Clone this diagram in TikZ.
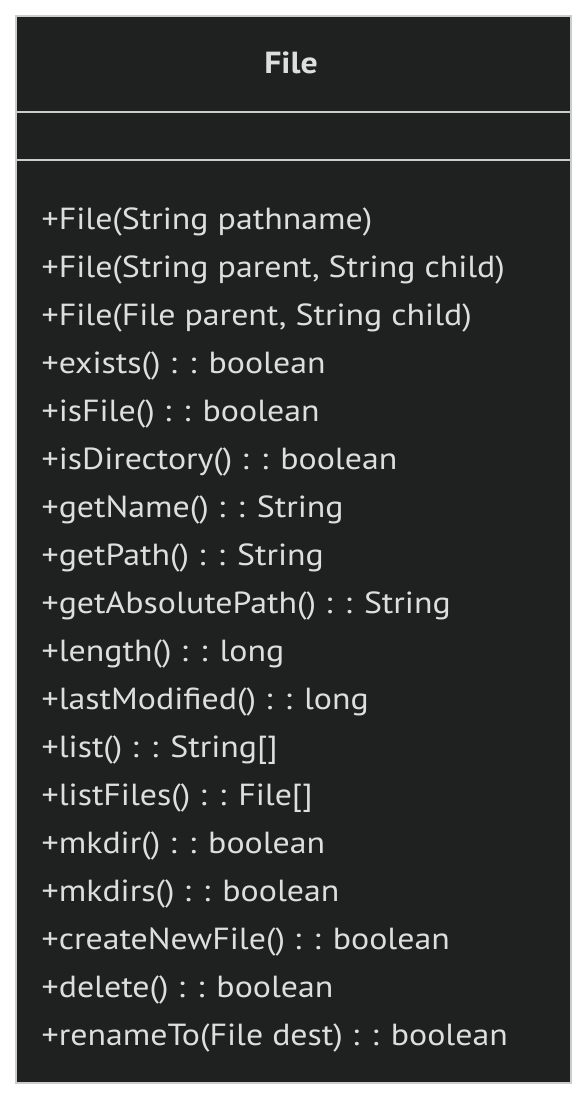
\documentclass[tikz,border=0pt]{standalone}
\usepackage{fontspec}
\setmainfont[FakeStretch=1.11]{PT Sans}
\usetikzlibrary{positioning}
\definecolor{classfill}{HTML}{1F2020}
\definecolor{classline}{HTML}{CCCCCC}
\definecolor{classtext}{HTML}{DEDEDE}
\tikzset{
  classbox/.style={draw=classline,fill=classfill,line width=2pt,inner sep=0,
    minimum width=555pt,minimum height=1067pt},
  classname/.style={text=classtext,inner sep=0,anchor=base,
    font=\fontsize{30.5}{30.5}\selectfont\bfseries},
  member/.style={text=classtext,inner sep=0,anchor=base west,
    font=\fontsize{30.5}{30.5}\selectfont},
  divider/.style={classline,line width=2pt}
}

\begin{document}
\begin{tikzpicture}[x=1pt,y=-1pt]
    \pgfmathsetmacro{\firstbase}{229}
    \pgfmathsetmacro{\rowstep}{48}
    \useasboundingbox (0,0) rectangle (587,1100);
    \fill[white] (0,0) rectangle (587,1100);
    \node[classbox] (file) at (293.5,549.5) {};
    \node[classname] (name) at (291,73) {File};
    % compartments
    \draw[divider] (file.west |- 0,111.5) -- (file.east |- 0,111.5);
    \draw[divider] (file.west |- 0,159.5) -- (file.east |- 0,159.5);
    \foreach \m [count=\i from 0] in {
        {+File(String pathname)},
        {+File(String parent, String child)},
        {+File(File parent, String child)},
        {+exists() : : boolean},
        {+isFile() : : boolean},
        {+isDirectory() : : boolean},
        {+getName() : : String},
        {+getPath() : : String},
        {+getAbsolutePath() : : String},
        {+length() : : long},
        {+lastModified() : : long},
        {+list() : : String[]},
        {+listFiles() : : File[]},
        {+mkdir() : : boolean},
        {+mkdirs() : : boolean},
        {+createNewFile() : : boolean},
        {+delete() : : boolean},
        {+renameTo(File dest) : : boolean}}
      \node[member] (m\i) at (41.5,\firstbase+\i*\rowstep) {\m};
\end{tikzpicture}
\end{document}
